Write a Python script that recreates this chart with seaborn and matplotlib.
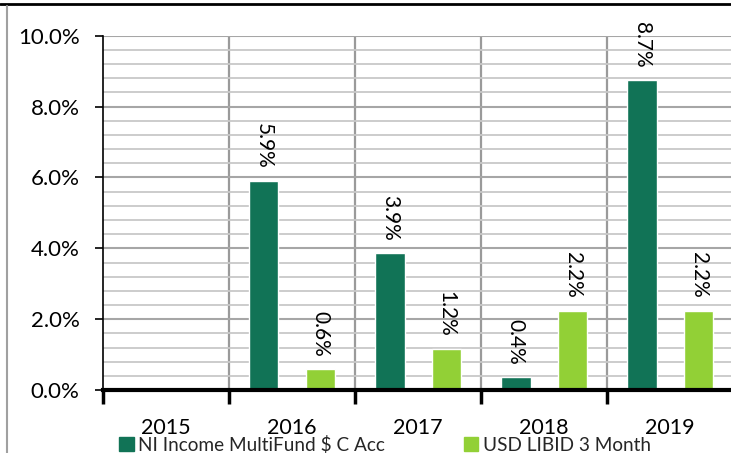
import numpy as np
import pandas as pd
import matplotlib
matplotlib.use("Agg")
import matplotlib.pyplot as plt
import seaborn as sns
from matplotlib.lines import Line2D
from matplotlib.ticker import MultipleLocator, FixedLocator, NullFormatter

# Data
years = ["2015", "2016", "2017", "2018", "2019"]
fund = [np.nan, 5.9, 3.87, 0.36, 8.74]
libid = [np.nan, 0.59, 1.16, 2.24, 2.24]
series_names = ["NI Income MultiFund $ C Acc", "USD LIBID 3 Month"]
colors = ["#117356", "#92D036"]

df = pd.DataFrame({
    "year": years * 2,
    "series": [series_names[0]] * len(years) + [series_names[1]] * len(years),
    "value": fund + libid,
})

sns.set_style("white")
plt.rcParams["font.family"] = ["Lato", "DejaVu Sans"]

fig = plt.figure(figsize=(7.31, 4.53), dpi=100)
ax = fig.add_axes([0.141, 0.139, 0.862, 0.782])

sns.barplot(data=df, x="year", y="value", hue="series", order=years,
            hue_order=series_names, palette=colors, width=0.9, gap=0.48,
            errorbar=None, ax=ax, legend=False, saturation=1)

ax.set_ylim(0, 10)
ax.set_xlim(-0.5, 4.5)

# gridlines
ax.yaxis.set_major_locator(MultipleLocator(2))
ax.yaxis.set_minor_locator(MultipleLocator(0.4))
ax.grid(which="minor", axis="y", color="#c8c8c8", lw=1.3, zorder=0)
ax.grid(which="major", axis="y", color="#a6a6a6", lw=1.5, zorder=0)
for xb in np.arange(0.5, 4.6, 1):
    ax.axvline(xb, color="#9a9a9a", lw=1.6, zorder=0)
ax.set_axisbelow(True)

ax.set_yticks(np.arange(0, 10.1, 2))
ax.set_yticklabels([f"{v:.1f}%" for v in np.arange(0, 10.1, 2)], fontsize=16)
ax.tick_params(axis="y", which="major", left=True, length=6, width=1.2,
               color="black", pad=11, labelcolor="black")
ax.tick_params(axis="y", which="minor", left=False)

# x ticks: boundaries as tick marks, labels centred
ax.xaxis.set_major_locator(FixedLocator(np.arange(-0.5, 4.6, 1)))
ax.xaxis.set_major_formatter(NullFormatter())
ax.xaxis.set_minor_locator(FixedLocator(np.arange(0, 5)))
ax.set_xticklabels(years, minor=True, fontsize=15.5)
ax.tick_params(axis="x", which="major", bottom=True, length=10, width=2.5, color="black")
ax.tick_params(axis="x", which="minor", bottom=False, pad=18, labelcolor="black")
ax.set_xlabel("")
ax.set_ylabel("")

for s in ["top", "right"]:
    ax.spines[s].set_visible(False)
ax.spines["bottom"].set_color("black")
ax.spines["bottom"].set_linewidth(3)
ax.spines["left"].set_color("black")
ax.spines["left"].set_linewidth(1.2)

# data labels
offsets = [-0.225, 0.225]
for vals, off in zip([fund, libid], offsets):
    for i, v in enumerate(vals):
        if np.isnan(v):
            continue
        ax.annotate(f"{v:.1f}%", (i + off, v), xytext=(0, 9),
                    textcoords="offset points", rotation=270,
                    ha="center", va="bottom", fontsize=15, color="black",
                    annotation_clip=False)

# legend
handles = [plt.Rectangle((0, 0), 1, 1, color=c) for c in colors]
fig.legend(handles, series_names, loc="center", bbox_to_anchor=(0.527, 0.018),
           ncol=2, frameon=False, fontsize=13.7, handlelength=0.75,
           handleheight=0.75, handletextpad=0.25, columnspacing=4.15,
           borderpad=0, borderaxespad=0)

# chart frame
fig.add_artist(Line2D([0, 1], [0.991, 0.991], color="black", lw=2, transform=fig.transFigure))
fig.add_artist(Line2D([0.009, 0.009], [0, 0.986], color="#a0a0a0", lw=1.5, transform=fig.transFigure))

fig.savefig("out.png", dpi=100)
